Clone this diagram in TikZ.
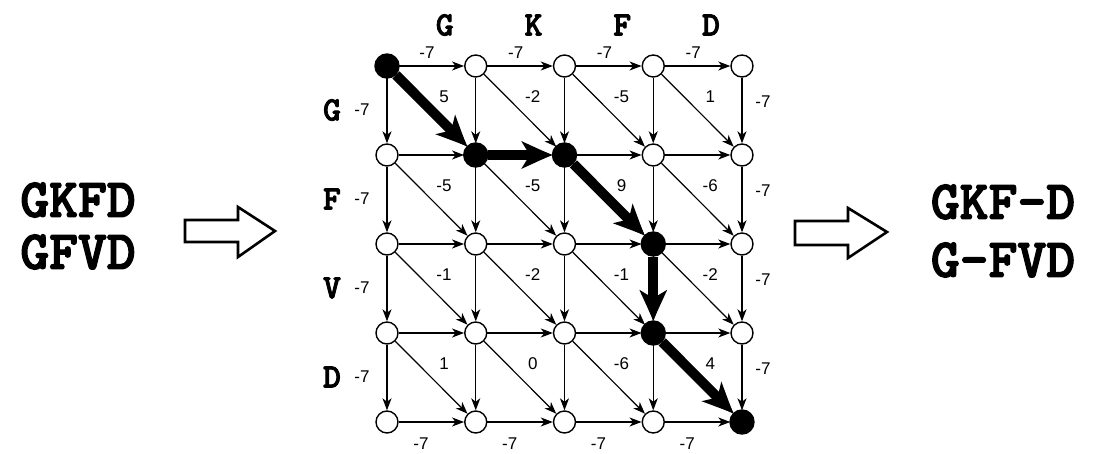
\documentclass[tikz,border=0pt]{standalone}
\usepackage{fontspec}
\setsansfont{Liberation Sans}
\newfontfamily\seqfont{lmmonolt10-bold.otf}[RawFeature={embolden=2.5}]
\usetikzlibrary{arrows.meta}
\tikzset{
  every picture/.style={line join=round, >=Stealth},
  vtx/.style={circle, draw, line width=1.4pt, fill=white, minimum size=22pt, inner sep=0pt},
  hit/.style={vtx, fill=black, minimum size=24pt},
  edge/.style={-{Stealth[length=12pt,width=9pt,inset=3.5pt]}, line width=1.2pt},
  best/.style={line width=10pt, -{Stealth[length=30pt,width=27pt,inset=8pt]}},
  score/.style={font=\sffamily\fontsize{17}{17}\selectfont, inner sep=0pt},
  res/.style={font=\seqfont\fontsize{34}{34}\selectfont, inner sep=0pt},
  seq/.style={font=\seqfont\fontsize{55}{55}\selectfont, inner sep=0pt},
  hollow/.style={line width=2.6pt, line join=miter},
}

\begin{document}
\begin{tikzpicture}[x=1pt,y=-1pt]
\useasboundingbox (0,0) rectangle (1095,454);
% grid of cells
\foreach \r in {0,...,4}
  \foreach \c in {0,...,4}
    \node[vtx] (n\r\c) at ({387+88.75*\c},{66+89*\r}) {};
\foreach \r in {0,...,4}
  \foreach \c in {0,...,4}{
    \pgfmathtruncatemacro\rn{\r+1}
    \pgfmathtruncatemacro\cn{\c+1}
    \ifnum\c<4 \draw[edge] (n\r\c) -- (n\r\cn); \fi
    \ifnum\r<4 \draw[edge] (n\r\c) -- (n\rn\c); \fi
    \ifnum\r<4 \ifnum\c<4 \draw[edge] (n\r\c) -- (n\rn\cn); \fi\fi
  }
% substitution scores
\foreach \r/\vals in {0/{5,-2,-5,1},1/{-5,-5,9,-6},2/{-1,-2,-1,-2},3/{1,0,-6,4}}
  \foreach \v [count=\c from 0] in \vals
    \node[score] (s\r\c) at ({387+88.75*\c+57},{66+89*\r+31}) {\v};
% gap penalties
\foreach \c in {0,...,3}{
  \node[score] (t\c) at ({387+88.75*\c+40},53) {-7};
  \node[score] (b\c) at ({387+88.75*\c+34},444) {-7};
}
\foreach \r in {0,...,3}{
  \node[score] (l\r) at (362,{110+89*\r}) {-7};
  \node[score] (g\r) at (763,{102+89*\r}) {-7};
}
% residues
\foreach \l [count=\c] in {G,K,F,D}
  \node[res] (top\c) at ({387+88.75*\c-31},25) {\l};
\foreach \l [count=\r from 0] in {G,F,V,D}
  \node[res] (side\r) at (332,{110+89*\r}) {\l};
% best path
\foreach \r/\c in {0/0,1/1,1/2,2/3,3/3,4/4}
  \node[hit] (h\r\c) at (n\r\c) {};
\draw[best] (h00) -- (h11);
\draw[best] (h11) -- (h12);
\draw[best] (h12) -- (h23);
\draw[best] (h23) -- (h33);
\draw[best] (h33) -- (h44);
% input and output
\node[seq] (inA) at (78,200) {GKFD};
\node[seq] (inB) at (78,252) {GFVD};
\node[seq] (outA) at (1003,202) {GKF–D};
\node[seq] (outB) at (1003,260) {G–FVD};
\draw[hollow] (185,220) -- (238,220) -- (238,207) -- (275,231) -- (238,257) -- (238,242) -- (185,242) -- cycle;
\draw[hollow] (795,221) -- (848,221) -- (848,208) -- (887,232) -- (848,258) -- (848,245) -- (795,245) -- cycle;
\end{tikzpicture}
\end{document}
